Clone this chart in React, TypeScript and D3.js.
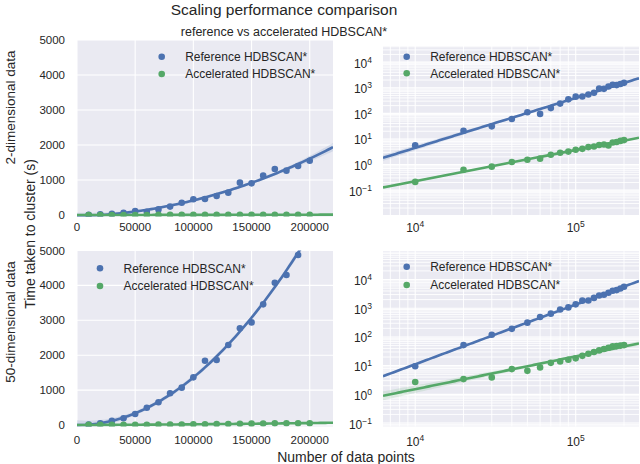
import * as d3 from 'd3';

// number of data points per run
const nPoints = [10000, 20000, 30000, 40000, 50000, 60000, 70000, 80000, 90000, 100000,
  110000, 120000, 130000, 140000, 150000, 160000, 170000, 180000, 190000, 200000];

// seconds, 2-dimensional data
const ref2d = [5.6, 21, 31, 60, 110, 95, 160, 240, 352, 448, 457, 543, 638, 924, 905, 1124, 1314, 1267, 1400, 1552];
const acc2d = [0.21, 0.62, 0.83, 1.25, 1.55, 1.7, 2.4, 2.9, 3.2, 3.8, 4.1, 4.8, 5.1, 5.8, 6.1, 5.6, 7.3, 7.6, 8.4, 9.0];

// seconds, 50-dimensional data
const ref50d = [9.5, 52, 120, 192, 315, 496, 650, 908, 1070, 1366, 1842, 1862, 2292, 2770, 2940, 3457, 4077, 4298, 4871, 5600];
const acc50d = [2.7, 3.4, 3.9, 7.6, 6.6, 8.7, 12.5, 14, 16, 18, 22, 26, 30, 34, 38, 42, 47, 48, 50, 52];

const seriesNames = ['Reference HDBSCAN*', 'Accelerated HDBSCAN*'];
const colors = ['#4C72B0', '#55A868'];
const linTicksX = [0, 50000, 100000, 150000, 200000];
const linTicksY = [0, 1000, 2000, 3000, 4000, 5000];

const FONT = '"Liberation Sans", Arial, sans-serif';
const TEXT = '#262626';
const BG = '#EAEAF2';

// tiny least squares, returns predictor giving [yhat, se]
function invert(m: number[][]) {
  const n = m.length;
  const a = m.map((r, i) => [...r, ...r.map((_, j) => (i === j ? 1 : 0))]);
  for (let c = 0; c < n; c++) {
    let p = c;
    for (let r = c + 1; r < n; r++) if (Math.abs(a[r][c]) > Math.abs(a[p][c])) p = r;
    [a[c], a[p]] = [a[p], a[c]];
    const d = a[c][c];
    for (let j = 0; j < 2 * n; j++) a[c][j] /= d;
    for (let r = 0; r < n; r++) {
      if (r === c) continue;
      const f = a[r][c];
      for (let j = 0; j < 2 * n; j++) a[r][j] -= f * a[c][j];
    }
  }
  return a.map(r => r.slice(n));
}

function fit(xs: number[], ys: number[], feats: (x: number) => number[]) {
  const X = xs.map(feats);
  const p = X[0].length;
  const XtX = d3.range(p).map(i => d3.range(p).map(j => d3.sum(X, r => r[i] * r[j])));
  const Xty = d3.range(p).map(i => d3.sum(X, (r, k) => r[i] * ys[k]));
  const inv = invert(XtX);
  const beta = inv.map(r => d3.sum(r, (v, j) => v * Xty[j]));
  const pred = (f: number[]) => d3.sum(f, (v, i) => v * beta[i]);
  const s2 = d3.sum(X, (r, k) => (ys[k] - pred(r)) ** 2) / (xs.length - p);
  return (x: number) => {
    const f = feats(x);
    const q = d3.sum(f, (fi, i) => fi * d3.sum(f, (fj, j) => inv[i][j] * fj));
    return [pred(f), Math.sqrt(s2 * q)];
  };
}

const T95 = 2.1;

type PanelCfg = {
  id: string;
  kind: 'lin' | 'log';
  left: number; right: number; top: number; bottom: number;
  x: any; y: any;
  data: number[][];
  legendX: number; legendY: number; legendGap: number;
  xLabelY: number;
};

function SupLabel({ x, y, exp, anchor }: { x: number; y: number; exp: number; anchor: string }) {
  return (
    <text x={x} y={y} textAnchor={anchor} fontSize={12} fill={TEXT} fontFamily={FONT}>
      10<tspan dy={-5} fontSize={8.5}>{exp < 0 ? '\u2212' + -exp : exp}</tspan>
    </text>
  );
}

function Panel({ c }: { c: PanelCfg }) {
  const { x, y } = c;
  const grid: JSX.Element[] = [];
  const labels: JSX.Element[] = [];
  let xs: number[] = [];

  if (c.kind === 'lin') {
    linTicksX.forEach(t => {
      grid.push(<line key={'gx' + t} x1={x(t)} x2={x(t)} y1={c.top} y2={c.bottom} stroke="#fff" strokeWidth={1.1} />);
      labels.push(<text key={'lx' + t} x={x(t)} y={c.xLabelY} textAnchor="middle" fontSize={11.5} fill={TEXT} fontFamily={FONT}>{t}</text>);
    });
    linTicksY.forEach(t => {
      grid.push(<line key={'gy' + t} x1={c.left} x2={c.right} y1={y(t)} y2={y(t)} stroke="#fff" strokeWidth={1.1} />);
      labels.push(<text key={'ly' + t} x={c.left - 12} y={y(t) + 4} textAnchor="end" fontSize={11.5} fill={TEXT} fontFamily={FONT}>{t}</text>);
    });
    const [x0, x1] = x.domain();
    xs = d3.range(0, 101).map(i => x0 + (x1 - x0) * i / 100);
  } else {
    const [x0, x1] = x.domain();
    const [y0, y1] = y.domain();
    for (let k = Math.floor(Math.log10(x0)); k <= Math.ceil(Math.log10(x1)); k++) {
      for (let m = 1; m < 10; m++) {
        const v = m * 10 ** k;
        if (v < x0 || v > x1) continue;
        grid.push(<line key={'gx' + v} x1={x(v)} x2={x(v)} y1={c.top} y2={c.bottom} stroke="#fff" strokeWidth={m === 1 ? 1.1 : 0.9} />);
        if (m === 1) labels.push(<SupLabel key={'lx' + k} x={x(v)} y={c.xLabelY} exp={k} anchor="middle" />);
      }
    }
    for (let k = Math.floor(Math.log10(y0)); k <= Math.ceil(Math.log10(y1)); k++) {
      for (let m = 1; m < 10; m++) {
        const v = m * 10 ** k;
        if (v < y0 || v > y1) continue;
        grid.push(<line key={'gy' + v} x1={c.left} x2={c.right} y1={y(v)} y2={y(v)} stroke="#fff" strokeWidth={m === 1 ? 1.1 : 0.9} />);
        if (m === 1) labels.push(<SupLabel key={'ly' + k} x={c.left - 11} y={y(v) + 5.5} exp={k} anchor="end" />);
      }
    }
    xs = d3.range(0, 101).map(i => 10 ** (Math.log10(x0) + (Math.log10(x1) - Math.log10(x0)) * i / 100));
  }

  const fits = c.data.map(vals => {
    if (c.kind === 'lin') {
      const f = fit(nPoints, vals, v => [1, v / 1e5, (v / 1e5) ** 2]);
      return xs.map(v => {
        const [m, se] = f(v);
        return { x: v, m, lo: m - T95 * se, hi: m + T95 * se };
      });
    }
    const f = fit(nPoints.map(Math.log10), vals.map(Math.log10), v => [1, v]);
    return xs.map(v => {
      const [m, se] = f(Math.log10(v));
      return { x: v, m: 10 ** m, lo: 10 ** (m - T95 * se), hi: 10 ** (m + T95 * se) };
    });
  });

  const line = d3.line<any>().x(d => x(d.x)).y(d => y(d.m));
  const area = d3.area<any>().x(d => x(d.x)).y0(d => y(d.lo)).y1(d => y(d.hi));

  return (
    <g>
      <defs>
        <clipPath id={'clip-' + c.id}>
          <rect x={c.left} y={c.top} width={c.right - c.left} height={c.bottom - c.top} />
        </clipPath>
      </defs>
      <rect x={c.left} y={c.top} width={c.right - c.left} height={c.bottom - c.top} fill={BG} />
      {grid}
      <g clipPath={`url(#clip-${c.id})`}>
        {c.data.map((vals, si) => (
          <g key={si}>
            {vals.map((v, i) => (
              <circle key={i} cx={x(nPoints[i])} cy={y(v)} r={3.3} fill={colors[si]} />
            ))}
            <path d={area(fits[si]) || ''} fill={colors[si]} fillOpacity={0.15} />
            <path d={line(fits[si]) || ''} fill="none" stroke={colors[si]} strokeWidth={2.6} />
          </g>
        ))}
      </g>
      {labels}
      {seriesNames.map((name, si) => (
        <g key={name}>
          <circle cx={c.legendX} cy={c.legendY + si * c.legendGap} r={3.3} fill={colors[si]} />
          <text x={c.legendX + 23.5} y={c.legendY + si * c.legendGap + 4.3} fontSize={12} fill={TEXT} fontFamily={FONT}>{name}</text>
        </g>
      ))}
    </g>
  );
}

export default function App() {
  const panels: PanelCfg[] = [
    {
      id: 'tl', kind: 'lin', left: 77, right: 333, top: 40, bottom: 216.5,
      x: d3.scaleLinear().domain([0, 220000]).range([77, 333]),
      y: d3.scaleLinear().domain([0, 5000]).range([215, 40]),
      data: [ref2d, acc2d], legendX: 161.7, legendY: 56.7, legendGap: 17.3, xLabelY: 231,
    },
    {
      id: 'tr', kind: 'log', left: 383, right: 639, top: 46, bottom: 215,
      x: d3.scaleLog().domain([6300, 248000]).range([383, 639]),
      y: d3.scaleLog().domain([10 ** -1.97, 10 ** 4.63]).range([215, 46]),
      data: [ref2d, acc2d], legendX: 406.7, legendY: 56.7, legendGap: 16.6, xLabelY: 231.5,
    },
    {
      id: 'bl', kind: 'lin', left: 77, right: 333, top: 250.5, bottom: 426.5,
      x: d3.scaleLinear().domain([0, 220000]).range([77, 333]),
      y: d3.scaleLinear().domain([0, 5000]).range([425, 250.5]),
      data: [ref50d, acc50d], legendX: 100, legendY: 268.3, legendGap: 17.7, xLabelY: 444,
    },
    {
      id: 'br', kind: 'log', left: 383, right: 639, top: 251, bottom: 426.5,
      x: d3.scaleLog().domain([6300, 248000]).range([383, 639]),
      y: d3.scaleLog().domain([10 ** -1.12, 10 ** 4.995]).range([426.5, 251]),
      data: [ref50d, acc50d], legendX: 406.7, legendY: 266.7, legendGap: 18.3, xLabelY: 446,
    },
  ];

  return (
    <svg width={640} height={464} style={{ position: 'absolute', left: 0, top: 0, background: '#fff' }}>
      <text x={284} y={15} textAnchor="middle" fontSize={15.5} fill={TEXT} fontFamily={FONT}>Scaling performance comparison</text>
      <text x={284} y={36} textAnchor="middle" fontSize={12.5} fill={TEXT} fontFamily={FONT}>reference vs accelerated HDBSCAN*</text>
      {panels.map(p => <Panel key={p.id} c={p} />)}
      <text transform="translate(15,107.5) rotate(-90)" textAnchor="middle" fontSize={13.5} fill={TEXT} fontFamily={FONT}>2-dimensional data</text>
      <text transform="translate(15,322) rotate(-90)" textAnchor="middle" fontSize={13.5} fill={TEXT} fontFamily={FONT}>50-dimensional data</text>
      <text transform="translate(35,234) rotate(-90)" textAnchor="middle" fontSize={14} fill={TEXT} fontFamily={FONT}>Time taken to cluster (s)</text>
      <text x={346} y={461.5} textAnchor="middle" fontSize={14} fill={TEXT} fontFamily={FONT}>Number of data points</text>
    </svg>
  );
}
